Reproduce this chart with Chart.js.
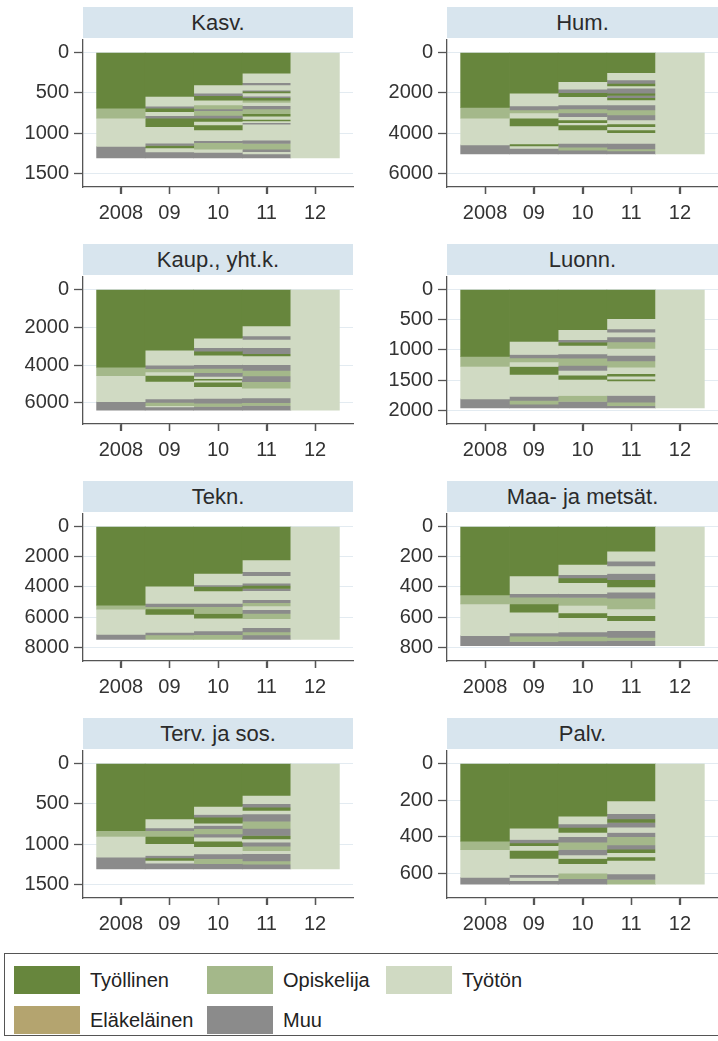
<!DOCTYPE html>
<html>
<head>
<meta charset="utf-8">
<script src="https://cdn.jsdelivr.net/npm/chart.js@4.4.1/dist/chart.umd.min.js"></script>
<style>
body { margin: 0; width: 718px; height: 1041px; overflow: hidden; background: #fff; font-family: "Liberation Sans", Arial, sans-serif; }
.panel { position: absolute; }
.strip { position: absolute; height: 31px; background: #d8e5ee; color: #2b2b2b; font-size: 22px; line-height: 32px; text-align: center; }
.legend { position: absolute; left: 4px; top: 953px; width: 760px; height: 83px; border: 1.5px solid #555; box-sizing: border-box; }
.sw { position: absolute; width: 66px; height: 28px; }
.lbl { position: absolute; font-size: 20px; color: #222; line-height: 28px; }
</style>
</head>
<body>
<div id="root"></div>
<script>
// categories and tick labels
const years = ['2008', '09', '10', '11', '12'];
const titles = ['Kasv.', 'Hum.', 'Kaup., yht.k.', 'Luonn.', 'Tekn.', 'Maa- ja metsät.', 'Terv. ja sos.', 'Palv.'];
const yTicks = [
    [0, 500, 1000, 1500],
    [0, 2000, 4000, 6000],
    [0, 2000, 4000, 6000],
    [0, 500, 1000, 1500, 2000],
    [0, 2000, 4000, 6000, 8000],
    [0, 200, 400, 600, 800],
    [0, 500, 1000, 1500],
    [0, 200, 400, 600]
];
const statusCodes = ['T', 'O', 'U', 'E', 'M'];
const statusNames = ['Työllinen', 'Opiskelija', 'Työtön', 'Eläkeläinen', 'Muu'];
const statusColors = ['#67863d', '#a4b88a', '#d0dac3', '#b4a46f', '#8b8b8b'];

// segments of each bar, top to bottom: [status, persons]
const kasv = [
    [['T',690],['O',125],['U',350],['M',145]],
    [['T',545],['U',120],['M',25],['T',45],['U',50],['M',30],['T',105],['U',205],['M',30],['T',30],['U',50],['M',75]],
    [['T',400],['U',105],['M',30],['T',55],['U',60],['O',50],['M',20],['O',60],['M',35],['T',40],['U',45],['T',60],['U',135],['M',25],['O',80],['U',40],['M',70]],
    [['T',256],['U',117],['M',29],['U',63],['M',15],['T',20],['U',40],['M',20],['T',30],['O',30],['U',40],['M',40],['O',60],['T',30],['U',40],['T',20],['U',20],['M',20],['U',200],['M',40],['O',70],['M',30],['U',30],['M',50]],
    [['U',1310]]
];
const hum = [
    [['T',2720],['O',545],['U',1325],['M',450]],
    [['T',2020],['U',630],['M',200],['O',150],['U',265],['T',380],['U',895],['T',100],['U',120],['M',280]],
    [['T',1440],['U',380],['M',170],['T',200],['U',410],['M',200],['O',200],['M',180],['U',170],['T',130],['U',120],['T',245],['U',665],['M',190],['O',150],['M',190]],
    [['T',995],['U',365],['M',165],['T',130],['U',115],['M',250],['T',110],['M',110],['T',110],['U',250],['M',250],['O',250],['M',250],['U',200],['T',130],['U',170],['T',130],['U',530],['M',280],['O',100],['M',150]],
    [['U',5040]]
];
const kaup = [
    [['T',4120],['O',450],['U',1380],['M',450]],
    [['T',3210],['U',800],['M',180],['O',180],['U',180],['T',320],['U',930],['M',180],['O',180],['U',60],['M',180]],
    [['T',2580],['U',500],['M',180],['T',220],['U',500],['M',200],['O',220],['M',200],['U',120],['T',80],['U',110],['T',235],['U',625],['M',250],['O',180],['M',200]],
    [['T',1920],['U',540],['M',180],['U',440],['M',320],['T',120],['U',460],['M',300],['O',300],['M',300],['O',350],['U',520],['M',250],['O',150],['M',250]],
    [['U',6400]]
];
const luonn = [
    [['T',1107],['O',167],['U',536],['M',150]],
    [['T',860],['U',215],['M',55],['O',70],['U',75],['T',130],['U',365],['M',65],['O',65],['M',60]],
    [['T',665],['U',165],['M',40],['T',55],['U',140],['M',70],['O',120],['M',85],['U',80],['T',70],['U',265],['O',100],['M',105]],
    [['T',480],['U',170],['M',55],['U',80],['M',80],['O',110],['U',115],['M',90],['O',105],['U',110],['T',40],['U',50],['T',30],['U',240],['M',110],['O',60],['M',35]],
    [['U',1960]]
];
const tekn = [
    [['T',5200],['O',270],['U',1680],['M',330]],
    [['T',3940],['U',1150],['M',220],['O',150],['T',360],['U',1190],['M',180],['O',290]],
    [['T',3100],['U',770],['M',100],['T',300],['U',820],['M',220],['O',450],['T',310],['U',840],['M',250],['O',320]],
    [['T',2210],['U',780],['M',260],['U',500],['M',150],['T',200],['M',150],['U',600],['M',200],['O',200],['U',250],['M',250],['O',350],['U',600],['M',280],['O',200],['M',300]],
    [['U',7480]]
];
const maa = [
    [['T',452],['O',60],['U',211],['M',67]],
    [['T',327],['U',118],['M',22],['O',45],['T',55],['U',138],['M',22],['O',35],['M',28]],
    [['T',250],['U',68],['M',22],['T',32],['U',73],['M',25],['O',53],['U',50],['T',30],['U',95],['M',30],['O',30],['M',32]],
    [['T',162],['U',67],['M',31],['U',51],['M',40],['T',49],['U',34],['M',40],['O',71],['U',45],['T',33],['U',67],['M',45],['O',20],['M',35]],
    [['U',790]]
];
const terv = [
    [['T',832],['O',74],['U',258],['M',146]],
    [['T',686],['U',112],['M',34],['O',72],['T',92],['U',146],['M',29],['T',34],['U',33],['M',72]],
    [['T',532],['U',100],['M',34],['T',74],['U',29],['M',40],['O',65],['M',41],['U',50],['T',66],['U',92],['M',60],['O',60],['M',67]],
    [['T',395],['U',104],['M',42],['T',41],['U',42],['M',90],['O',90],['M',90],['T',42],['U',41],['M',50],['O',54],['U',40],['M',90],['O',40],['M',59]],
    [['U',1310]]
];
const palv = [
    [['T',424],['O',47],['U',151],['M',38]],
    [['T',353],['U',62],['M',19],['T',15],['U',26],['T',44],['U',88],['M',15],['U',19],['M',19]],
    [['T',287],['U',43],['M',19],['T',28],['U',23],['M',30],['O',40],['M',30],['U',19],['T',28],['U',53],['O',30],['M',30]],
    [['T',204],['U',70],['M',28],['T',20],['M',25],['U',30],['M',23],['O',45],['M',23],['T',19],['U',23],['T',19],['U',75],['M',30],['O',26]],
    [['U',660]]
];
const panels = [kasv, hum, kaup, luonn, tekn, maa, terv, palv];

Chart.defaults.font.family = '"Liberation Sans", Arial, sans-serif';

// short tick marks under the x axis, at each year
const xTickMarks = {
    id: 'xTickMarks',
    afterDraw(chart) {
        const x = chart.scales.x;
        const ctx = chart.ctx;
        ctx.save();
        ctx.strokeStyle = '#555';
        ctx.lineWidth = 1.3;
        x.ticks.forEach((t, j) => {
            const px = Math.round(x.getPixelForTick(j)) + 0.5;
            ctx.beginPath();
            ctx.moveTo(px, x.top);
            ctx.lineTo(px, x.top + 7);
            ctx.stroke();
        });
        ctx.restore();
    }
};

function colorOf(code) {
    return statusColors[statusCodes.indexOf(code)] || statusColors[2];
}

function makePanel(i, bars) {
    const root = document.getElementById('root');
    const col = i % 2;
    const row = Math.floor(i / 2);
    const left = col ? 364 : 0;
    const top = row * 237;
    const width = col ? 354 : 360;

    const strip = document.createElement('div');
    strip.className = 'strip';
    strip.style.left = (left + 83) + 'px';
    strip.style.top = (top + 7) + 'px';
    strip.style.width = (width - 83 - (col ? 0 : 7)) + 'px';
    strip.textContent = titles[i];
    root.appendChild(strip);

    const canvas = document.createElement('canvas');
    canvas.className = 'panel';
    canvas.width = width;
    canvas.height = 232;
    canvas.style.left = left + 'px';
    canvas.style.top = top + 'px';
    root.appendChild(canvas);

    // one dataset per stacking layer
    const layers = Math.max(...bars.map(b => b.length));
    const datasets = [];
    for (let k = 0; k < layers; k++) {
        const data = [];
        bars.forEach((b, j) => {
            if (b[k]) data.push({ x: j, y: b[k][1], c: b[k][0] });
        });
        datasets.push({
            data: data,
            backgroundColor: ctx => colorOf(ctx.raw ? ctx.raw.c : 'U'),
            borderWidth: 0,
            barPercentage: 1,
            categoryPercentage: 1
        });
    }

    const ticks = yTicks[i];
    const total = Math.max(...bars.map(b => b.reduce((s, seg) => s + seg[1], 0)));
    const range = Math.max(ticks[ticks.length - 1], total);

    new Chart(canvas.getContext('2d'), {
        type: 'bar',
        data: { datasets: datasets },
        plugins: [xTickMarks],
        options: {
            responsive: false,
            animation: false,
            layout: { padding: { top: 40, right: col ? 0 : 7, bottom: 3, left: 0 } },
            plugins: { legend: { display: false }, tooltip: { enabled: false } },
            scales: {
                x: {
                    type: 'linear',
                    stacked: true,
                    offset: false,
                    min: -0.78,
                    max: 4.78,
                    afterBuildTicks: s => { s.ticks = years.map((_, j) => ({ value: j })); },
                    afterFit: s => { s.height = 42; },
                    ticks: { callback: v => years[v], color: '#333', font: { size: 20 }, padding: 7, autoSkip: false, maxRotation: 0 },
                    grid: { offset: false, drawOnChartArea: false, drawTicks: true, tickLength: 7, tickColor: '#555', tickWidth: 1.3 },
                    border: { color: '#555', width: 1.3 }
                },
                y: {
                    type: 'linear',
                    stacked: true,
                    reverse: true,
                    min: -0.105 * range,
                    max: 1.114 * range,
                    afterBuildTicks: s => { s.ticks = ticks.map(v => ({ value: v })); },
                    afterFit: s => { s.width = 83; },
                    ticks: { callback: v => String(v), color: '#333', font: { size: 20 }, padding: 5 },
                    grid: { color: '#e3ebf1', tickLength: 9, tickColor: '#555', tickWidth: 1.3 },
                    border: { color: '#555', width: 1.3 }
                }
            }
        }
    });
}

panels.forEach((bars, i) => makePanel(i, bars));

// legend box
const legend = document.createElement('div');
legend.className = 'legend';
document.getElementById('root').appendChild(legend);
const legendPos = [[9, 12], [202, 12], [381, 12], [9, 52], [202, 52]];
statusNames.forEach((name, k) => {
    const [lx, ly] = legendPos[k];
    const sw = document.createElement('div');
    sw.className = 'sw';
    sw.style.left = lx + 'px';
    sw.style.top = ly + 'px';
    sw.style.background = statusColors[k];
    legend.appendChild(sw);
    const lbl = document.createElement('div');
    lbl.className = 'lbl';
    lbl.style.left = (lx + 76) + 'px';
    lbl.style.top = ly + 'px';
    lbl.textContent = name;
    legend.appendChild(lbl);
});
</script>
</body>
</html>
